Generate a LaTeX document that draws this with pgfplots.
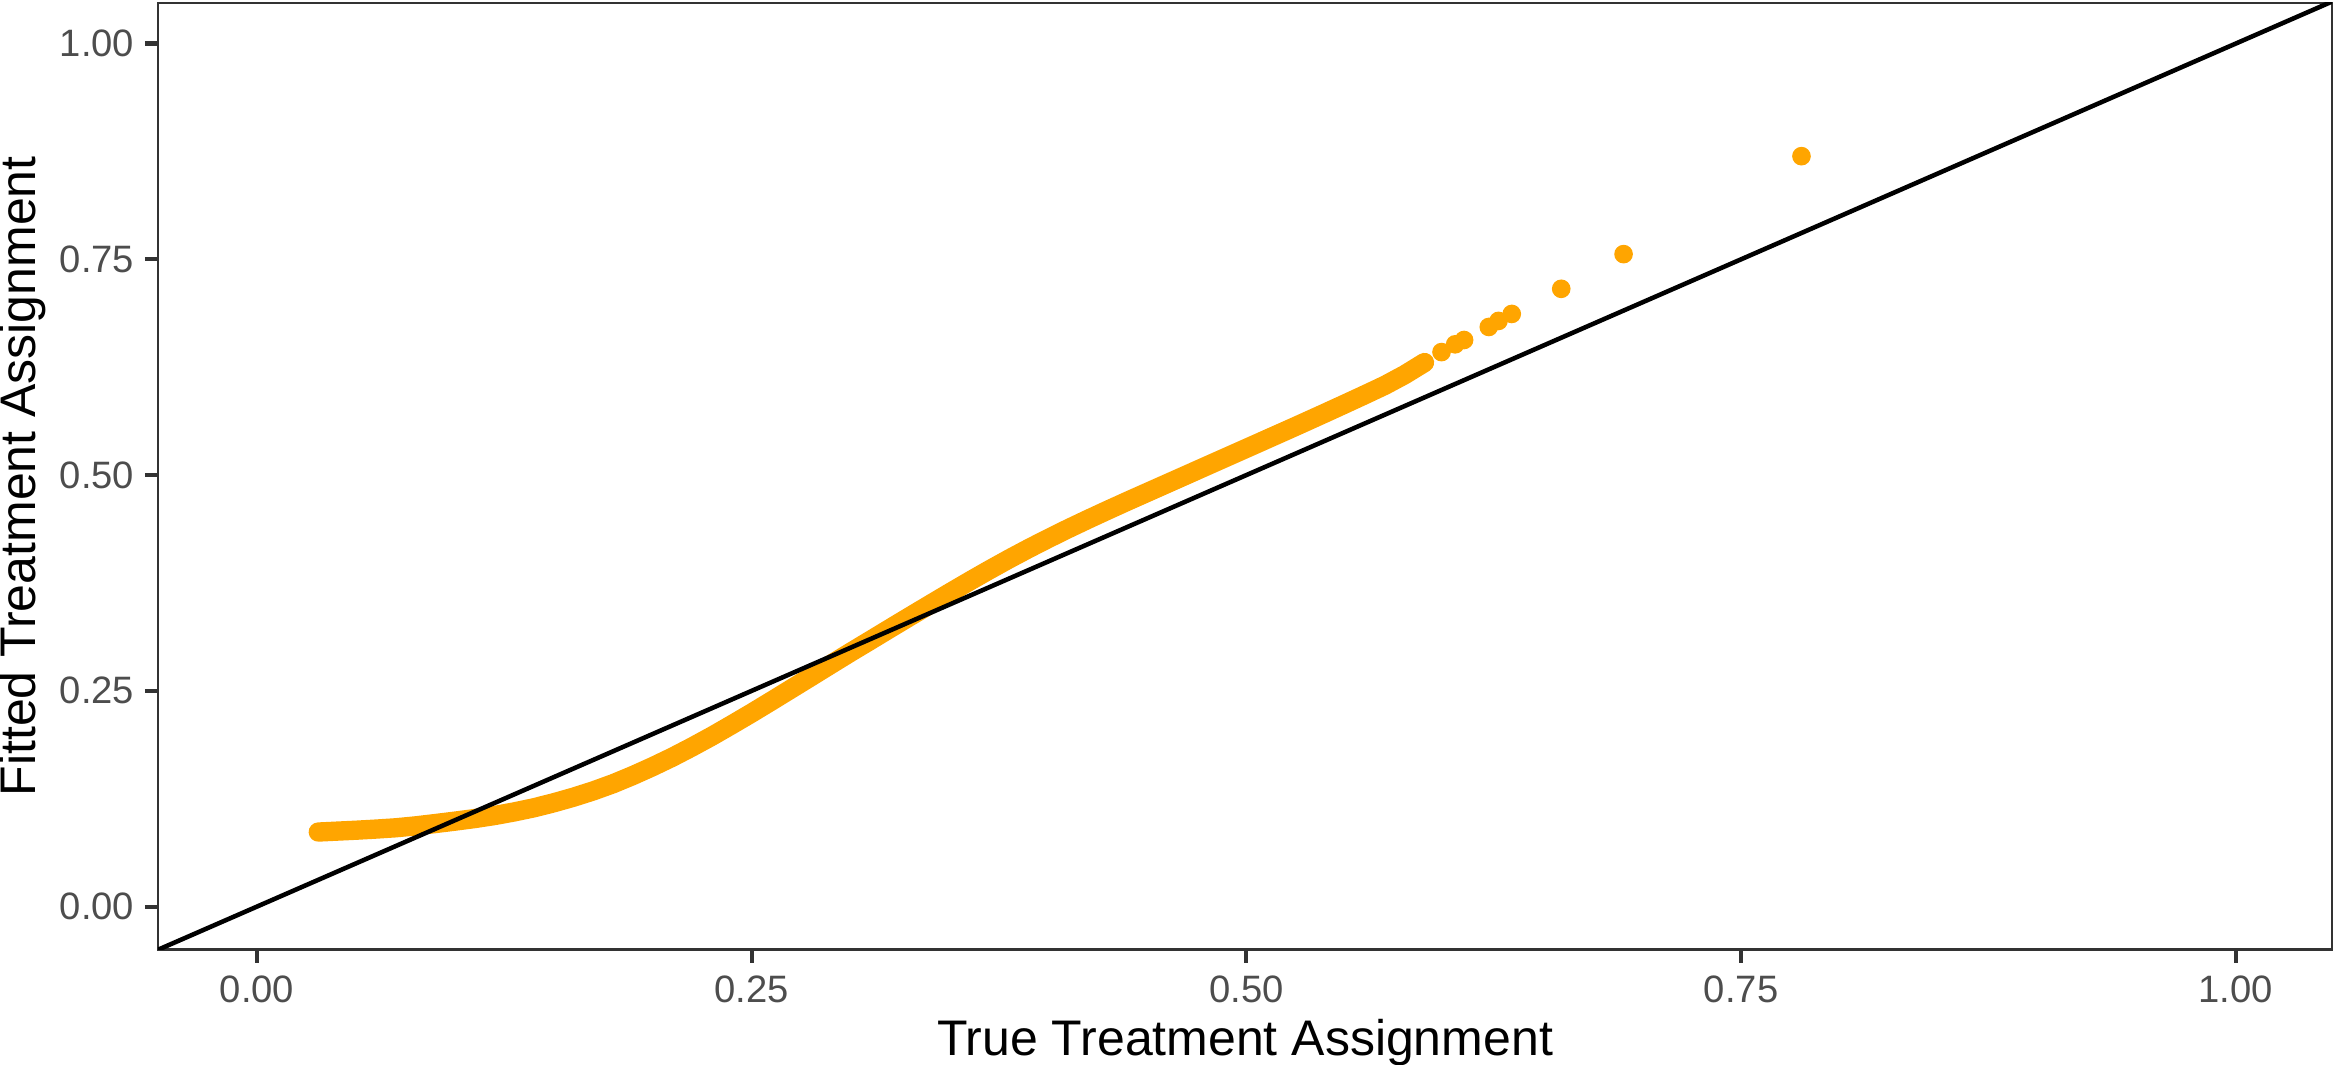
\documentclass[border=0pt]{standalone}
\usepackage{fontspec}
\setmainfont{Liberation Sans}
\usepackage{pgfplots}
\pgfplotsset{compat=1.18}
\definecolor{gg20}{HTML}{333333}
\definecolor{gg30}{HTML}{4D4D4D}
\definecolor{ggorange}{HTML}{FFA500}
\begin{document}
\begin{tikzpicture}
\begin{axis}[
  at={(0,0)}, anchor=south west,
  width=478.3pt, height=208.3pt, scale only axis,
  xmin=-0.05, xmax=1.0486, ymin=-0.05, ymax=1.047,
  xtick={0,0.25,0.5,0.75,1}, xticklabels={0.00,0.25,0.50,0.75,1.00},
  ytick={0,0.25,0.5,0.75,1}, yticklabels={0.00,0.25,0.50,0.75,1.00},
  xtick pos=left, ytick pos=left,
  tick align=outside, major tick length=2.86pt,
  every tick/.style={color=gg20, line width=0.9pt},
  axis line style={color=gg20, line width=0.6pt},
  ticklabel style={font=\fontsize{8.4}{10}\selectfont, text=gg30, inner sep=0pt},
  xticklabel style={anchor=north, yshift=-2.64pt},
  yticklabel style={anchor=east, xshift=-2.2pt},
  xlabel={True Treatment Assignment},
  ylabel={Fitted Treatment Assignment},
  label style={font=\fontsize{11}{13}\selectfont, text=black, inner sep=0pt},
  xlabel style={at={(axis description cs:0.5,0)}, anchor=base, yshift=-23.3pt},
  ylabel style={at={(axis description cs:0,0.5)}, anchor=base, yshift=26.9pt},
]
\addplot [color=ggorange, line width=4.25pt, line cap=round, line join=round] coordinates {
(0.031,0.0864) (0.04,0.0874) (0.05,0.0885) (0.06,0.0898) (0.07,0.0913)
(0.08,0.0935) (0.09,0.0962) (0.10,0.0990) (0.11,0.1020) (0.12,0.1055)
(0.13,0.1097) (0.14,0.1145) (0.15,0.1203) (0.16,0.1268) (0.17,0.1341)
(0.18,0.1424) (0.19,0.1519) (0.20,0.1622) (0.21,0.1732) (0.22,0.1851)
(0.23,0.1976) (0.24,0.2108) (0.25,0.2243) (0.26,0.2382) (0.27,0.2523)
(0.28,0.2664) (0.29,0.2806) (0.30,0.2947) (0.31,0.3085) (0.32,0.3224)
(0.33,0.3362) (0.34,0.3499) (0.35,0.3635) (0.36,0.3769) (0.37,0.3900)
(0.38,0.4027) (0.39,0.4149) (0.40,0.4266) (0.41,0.4379) (0.42,0.4488)
(0.43,0.4594) (0.44,0.4698) (0.45,0.4800) (0.46,0.4902) (0.47,0.5004)
(0.48,0.5106) (0.49,0.5208) (0.50,0.5310) (0.51,0.5412) (0.52,0.5514)
(0.53,0.5617) (0.54,0.5721) (0.55,0.5826) (0.56,0.5932) (0.57,0.6040)
(0.58,0.6163) (0.59,0.6304)
};
\addplot [only marks, mark=*, mark size=1.85pt, color=ggorange, mark options={fill=ggorange, draw=ggorange}] coordinates {
(0.5986,0.6425) (0.6055,0.6515) (0.6100,0.6565) (0.6225,0.6716) (0.6274,0.6786)
(0.6341,0.6867) (0.6591,0.7158) (0.6906,0.7560) (0.7805,0.8695)
};
\addplot [black, line width=1pt] coordinates {(-0.06,-0.06) (1.06,1.06)};
\end{axis}
\pgfresetboundingbox
\path (-34.76pt,-25.3pt) rectangle (478.52pt,208.96pt);
\end{tikzpicture}
\end{document}
